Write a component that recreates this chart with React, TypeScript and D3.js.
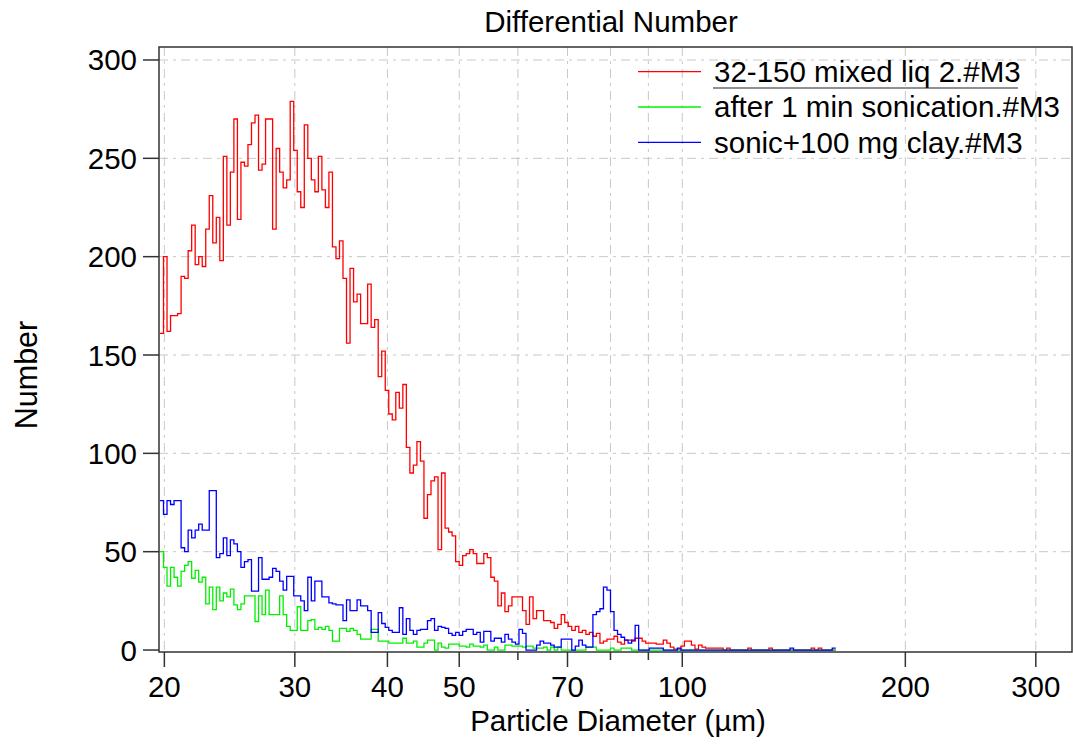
import React from 'react';
import * as d3 from 'd3';

// log-spaced size bins (lower edge of bin 0 in µm, bin width in log10 units)
const FIRST_EDGE = 19.73;
const LOG_STEP = 0.00475;

const seriesNames = ['32-150 mixed liq 2.#M3', 'after 1 min sonication.#M3', 'sonic+100 mg clay.#M3'];
const seriesColors = ['#ff0000', '#00f000', '#0000ff'];

const mixedLiq = [
  161, 200, 162, 170, 170, 171, 190, 189, 203, 216,
  196, 200, 195, 214, 231, 207, 220, 198, 251, 216,
  243, 270, 219, 248, 246, 257, 268, 272, 244, 247,
  270, 270, 214, 255, 243, 235, 239, 279, 254, 233,
  225, 267, 250, 239, 233, 251, 234, 225, 243, 205,
  199, 208, 189, 156, 194, 177, 181, 166, 166, 186,
  164, 168, 139, 152, 132, 120, 117, 131, 123, 135,
  103, 90, 94, 106, 96, 67, 79, 86, 88, 51,
  90, 62, 60, 58, 45, 43, 48, 49, 51, 49,
  44, 44, 49, 47, 37, 35, 22.5, 29, 19.5, 22.5,
  27, 27, 27, 20, 13, 27, 16, 20, 20, 15,
  15, 14, 11, 13, 18, 14, 12, 10, 12, 9,
  10, 8, 9, 7, 8.5, 3.5, 4.5, 5.5, 5.5, 7,
  4, 3, 5, 5, 4.5, 6, 6, 4.5, 3.5, 3.5,
  3.5, 3, 3, 5, 3.5, 1.5, 0.5, 0.5, 2, 4.5,
  4.5, 2.5, 0.5, 2.5, 1.5, 1, 1, 1, 1, 1,
  0, 1, 0, 0, 0, 0, 0, 1, 0, 0,
  0, 0, 0, 1, 0, 0, 0, 0, 0, 0,
  0, 0, 0, 0, 0, 1, 0, 1, 0, 0,
  0, 0,
];

const afterSonication = [
  50, 42, 32.5, 42, 37, 32.5, 40, 43, 45, 36.5,
  40.5, 34.5, 37, 23.5, 32, 20.5, 32, 25, 29, 27,
  31, 23, 20.5, 23.5, 27.5, 27.5, 27.5, 14.5, 27.5, 18,
  30.5, 18, 18, 18, 27.5, 18, 12, 10, 10, 22,
  10, 10, 15, 15.5, 10.5, 11.5, 10.5, 12, 10, 4.5,
  4.5, 11, 11, 9.5, 11, 10, 8, 5.5, 5.5, 5.5,
  10.5, 10.5, 4.5, 4.5, 4.5, 3.5, 3.5, 3.5, 3.5, 6,
  3.5, 3.5, 4.5, 1.5, 1.5, 3.5, 5, 5, 0, 3.5,
  1.5, 1, 3, 3, 3, 2, 2, 1.5, 3, 2,
  2, 1.5, 2.5, 0, 0, 1.5, 0, 0, 2.5, 2.5,
  2, 2, 2, 1.5, 2, 2, 1, 1, 1, 1.5,
  0, 1.5, 0, 1.5, 0, 0, 0, 0, 0, 0,
  0, 1.5, 1.5, 1.5, 0, 0, 0, 0, 1, 0,
  0, 1, 1, 1, 0, 0, 0, 0, 0, 0,
  0, 0, 0, 0, 0, 0, 0, 0, 0, 0,
  0, 0, 0, 0, 0, 0, 0, 0, 0, 0,
  0, 0, 0, 0, 0, 0, 0, 0, 0, 0,
  0, 0, 0, 0, 0, 0, 0, 0, 0, 0,
  0, 0, 0, 0, 0, 0, 0, 0, 0, 0,
  0, 0,
];

const withClay = [
  76, 69, 76, 74, 76, 76, 52, 50, 61, 57,
  61, 64, 61, 61, 81, 81, 47, 49, 57, 48,
  56, 54, 50, 42, 45, 46, 30, 30, 47, 36,
  36, 37, 41.5, 40, 35, 30.5, 37.5, 37.5, 27.5, 27.5,
  25, 20, 37, 25, 35, 35, 27, 27, 24, 23.5,
  23, 23, 15, 25.5, 20, 20, 25.5, 22.5, 22.5, 20,
  9, 9, 19, 13.5, 11.5, 10, 9, 9, 21.5, 8,
  16, 10, 8, 10, 10.5, 10.5, 15, 16, 10, 12,
  11.5, 11, 8.5, 7.5, 9, 7.5, 9.5, 10.5, 10.5, 8,
  9, 4, 9.5, 9.5, 4.5, 6, 6, 4, 8, 5.5,
  4, 3, 10.5, 8.5, 0, 0, 0, 2.5, 4.5, 3.5,
  3.5, 2.5, 1.5, 1.5, 5.5, 5.5, 5.5, 0, 2, 5,
  2.5, 1.5, 1.5, 18, 19.5, 21, 32, 30.5, 19.5, 10,
  8, 6.5, 5, 3.5, 5, 12.5, 0, 0, 0, 1,
  1, 1, 1, 0, 0, 0, 0, 1, 0, 0,
  0, 0, 0, 0, 0, 0, 0, 0, 0, 0,
  0, 0, 0, 0, 0, 0, 0, 0, 0, 0,
  0, 0, 0, 0, 0, 0, 0, 0, 0, 1,
  0, 0, 0, 0, 0, 0, 0, 0, 0, 0,
  0, 1,
];

const xMajorTicks = [20, 30, 40, 50, 70, 100, 200, 300];
const xMinorTicks = [60, 80, 90];
const xGrid = [20, 30, 40, 50, 60, 70, 80, 90, 100, 200, 300];
const yTicks = [0, 50, 100, 150, 200, 250, 300];

const W = 1073;
const H = 744;
const FONT = '"Liberation Sans", Arial, sans-serif';
const FS = 29.5;

export default function App() {
  const x = d3.scaleLog().domain([19.67, 335.7]).range([159, 1072]);
  const y = d3.scaleLinear().domain([-1, 306.6]).range([652, 47]);
  const [x0, x1] = x.range();
  const [yb, yt] = y.range();

  const makePath = (vals: number[]) => {
    const pts: [number, number][] = vals.map((v, i) => [FIRST_EDGE * Math.pow(10, LOG_STEP * i), v]);
    pts.push([FIRST_EDGE * Math.pow(10, LOG_STEP * vals.length), vals[vals.length - 1]]);
    const line = d3.line<[number, number]>()
      .x(d => x(d[0]))
      .y(d => y(d[1]))
      .curve(d3.curveStepAfter);
    return line(pts) || '';
  };

  const series = [mixedLiq, afterSonication, withClay];
  const dash = '9,5,3,5';

  return (
    <svg width={W} height={H} style={{ position: 'absolute', left: 0, top: 0, background: '#fff' }}
      fontFamily={FONT}>
      <defs>
        <clipPath id="plot">
          <rect x={x0} y={yt} width={x1 - x0} height={yb - yt} />
        </clipPath>
      </defs>

      {/* grid */}
      <g stroke="#c8c8c8" strokeWidth={1} strokeDasharray={dash}>
        {xGrid.map(t => (
          <line key={'gx' + t} x1={x(t)} x2={x(t)} y1={yt} y2={yb} />
        ))}
        {yTicks.filter(t => t > 0).map(t => (
          <line key={'gy' + t} x1={x0} x2={x1} y1={y(t)} y2={y(t)} />
        ))}
      </g>

      {/* histograms */}
      <g clipPath="url(#plot)" fill="none" strokeWidth={1.3}>
        {series.map((s, i) => (
          <path key={i} d={makePath(s)} stroke={seriesColors[i]} />
        ))}
      </g>

      {/* frame */}
      <rect x={x0} y={yt} width={x1 - x0} height={yb - yt} fill="none" stroke="#333" strokeWidth={1.5} />

      {/* y axis */}
      {yTicks.map(t => (
        <g key={'yt' + t}>
          <line x1={143} x2={x0} y1={y(t)} y2={y(t)} stroke="#333" strokeWidth={1.5} />
          <text x={137} y={y(t) + 10.5} textAnchor="end" fontSize={FS} fill="#000">{t}</text>
        </g>
      ))}

      {/* x axis */}
      {xMajorTicks.map(t => (
        <g key={'xt' + t}>
          <line x1={x(t)} x2={x(t)} y1={yb} y2={yb + 15} stroke="#333" strokeWidth={1.5} />
          <text x={x(t)} y={697} textAnchor="middle" fontSize={FS} fill="#000">{t}</text>
        </g>
      ))}
      {xMinorTicks.map(t => (
        <line key={'xm' + t} x1={x(t)} x2={x(t)} y1={yb} y2={yb + 8} stroke="#333" strokeWidth={1.5} />
      ))}

      <text x={618} y={731} textAnchor="middle" fontSize={FS} fill="#000">Particle Diameter (µm)</text>
      <text transform="translate(37,375) rotate(-90)" textAnchor="middle" fontSize={30.5} fill="#000">Number</text>
      <text x={611} y={32} textAnchor="middle" fontSize={FS} fill="#000">Differential Number</text>

      {/* legend */}
      {seriesNames.map((name, i) => (
        <g key={'lg' + i}>
          <line x1={638} x2={701} y1={71.7 + i * 35.3} y2={71.7 + i * 35.3} stroke={seriesColors[i]} strokeWidth={1.3} />
          <text x={714} y={81.5 + i * 35.5} fontSize={FS} fill="#000">{name}</text>
        </g>
      ))}
      <line x1={713} x2={1018} y1={88} y2={88} stroke="#222" strokeWidth={1.2} />
    </svg>
  );
}
